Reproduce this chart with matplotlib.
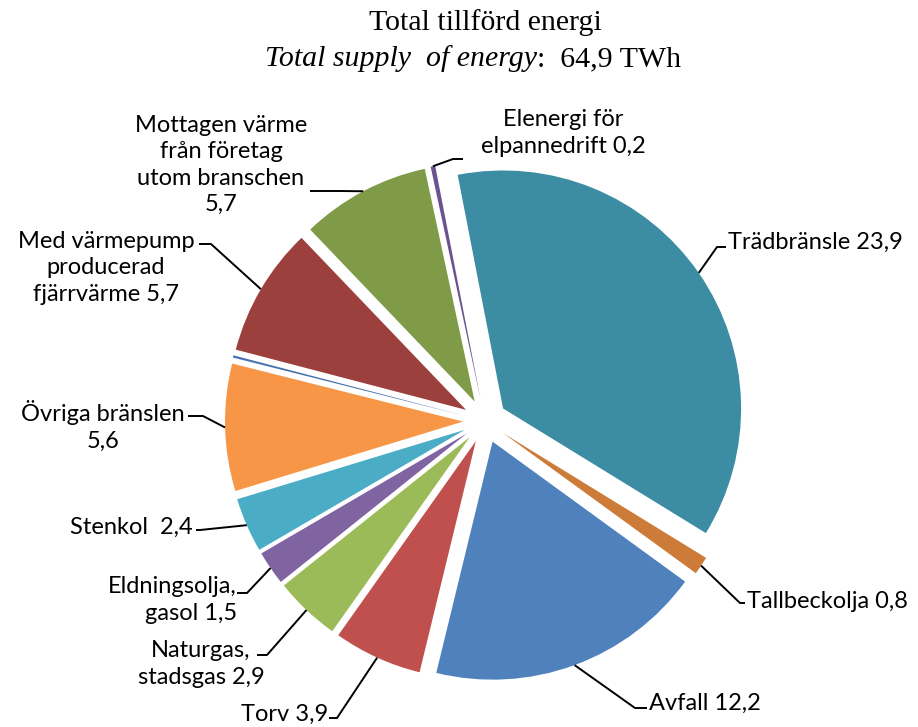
import matplotlib
matplotlib.use("Agg")
import matplotlib.pyplot as plt
import numpy as np

W, H = 918, 727

# ---- data ----
categories = ["Trädbränsle", "Tallbeckolja", "Avfall", "Torv",
              "Naturgas,\nstadsgas", "Eldningsolja,\ngasol", "Stenkol ",
              "Övriga bränslen", "", "Med värmepump\nproducerad\nfjärrvärme",
              "Mottagen värme\nfrån företag\nutom branschen",
              "Elenergi för\nelpannedrift"]
separators = [" ", " ", " ", " ", " ", " ", " ", "\n", "", " ", "\n", " "]
values = [23.9, 0.8, 12.2, 3.9, 2.9, 1.5, 2.4, 5.6, 0.1, 5.7, 5.7, 0.2]
total_twh = "64,9"
colors = ["#3C8CA3", "#CD7B38", "#4F81BD", "#C0504D", "#9BBB59", "#8064A2",
          "#4BACC6", "#F79646", "#4A74B0", "#9C403E", "#7F9B48", "#6B5290"]

# ---- layout (pixel positions of labels / leader elbows) ----
# text (x, y, ha), elbow (x, y), end x of the horizontal piece
layout = [
    ((728, 242, "left"),   (717, 247), 726),
    ((747, 601, "left"),   (740, 603), 745),
    ((649, 703, "left"),   (635, 708), 647),
    ((328, 714, "right"),  (337, 718), 329),
    ((201, 664, "center"), (267, 655), 257),
    ((237, 600, "right"),  (247, 593), 237),
    ((193, 527, "right"),  (200, 530), 196),
    ((103, 426, "center"), (203, 416), 188),
    None,
    ((106, 268, "center"), (211, 244), 199),
    ((221, 165, "center"), (340, 191), 310),
    ((563, 133, "center"), (453, 159), 463),
]

CX, CY, R, EXPL = 485, 421, 238, 22

fig = plt.figure(figsize=(W / 100, H / 100), dpi=100)
ax = fig.add_axes([0, 0, 1, 1])
wedges, _ = ax.pie(values, colors=colors, startangle=-101, counterclock=True,
                   radius=R, center=(CX, CY), explode=[EXPL] * len(values),
                   wedgeprops=dict(linewidth=0, antialiased=True))
ax.set_xlim(0, W)
ax.set_ylim(H, 0)
ax.set_aspect("auto")
ax.axis("off")

FONT = "Lato"
FS = 17

for w, cat, sep, val, lay in zip(wedges, categories, separators, values, layout):
    if lay is None:
        continue
    (tx, ty, ha), (ex, ey), endx = lay
    mid = np.deg2rad(0.5 * (w.theta1 + w.theta2))
    axp = w.center[0] + w.r * np.cos(mid)
    ayp = w.center[1] + w.r * np.sin(mid)
    ax.plot([axp, ex, endx], [ayp, ey, ey], color="black", lw=1.4,
            solid_capstyle="butt")
    label = cat + sep + f"{val:.1f}".replace(".", ",")
    ax.text(tx, ty, label, ha=ha, va="center", multialignment=ha,
            fontsize=FS, family=FONT, linespacing=1.3, color="black")

# ---- title ----
ax.text(485, 30, "Total tillförd energi", ha="center", va="baseline",
        fontsize=21.5, family="Liberation Serif")
ax.text(537, 66, "Total supply  of energy", ha="right", va="baseline",
        fontsize=21.5, family="Liberation Serif", style="italic")
ax.text(537, 66, ":  " + total_twh + " TWh", ha="left", va="baseline",
        fontsize=21.5, family="Liberation Serif")

fig.savefig("out.png", dpi=100, facecolor="white")
